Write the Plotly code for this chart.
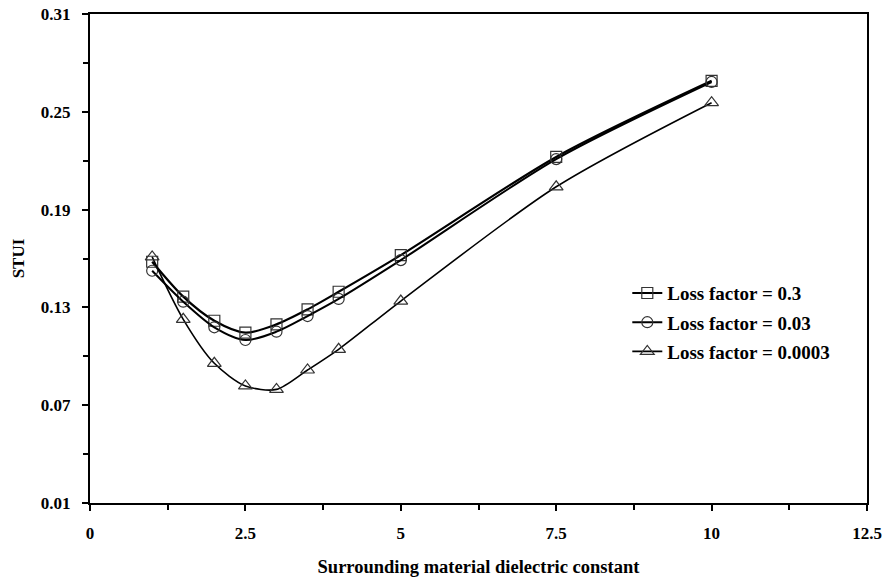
import plotly.graph_objects as go

x_vals = [1, 1.5, 2, 2.5, 3, 3.5, 4, 5, 7.5, 10]
lf_03 = [0.158, 0.1366, 0.1218, 0.1145, 0.1196, 0.1288, 0.1396, 0.1621, 0.2223, 0.269]
lf_003 = [0.1525, 0.1335, 0.1178, 0.110, 0.1151, 0.1247, 0.1352, 0.159, 0.221, 0.2683]
lf_00003 = [0.161, 0.1227, 0.0957, 0.0818, 0.0797, 0.0916, 0.1043, 0.1339, 0.204, 0.2556]
names = ["Loss factor = 0.3", "Loss factor = 0.03", "Loss factor = 0.0003"]
x_ticks = [0, 2.5, 5, 7.5, 10, 12.5]
y_ticks = [0.01, 0.07, 0.13, 0.19, 0.25, 0.31]

FONT = "Liberation Serif"

fig = go.Figure()
series = [
    (lf_03, "square-open", 11, 2.2),
    (lf_003, "circle-open", 11, 2.0),
    (lf_00003, "triangle-up-open", 12, 1.6),
]
for i, (ys, sym, sz, lw) in enumerate(series):
    fig.add_trace(go.Scatter(
        x=x_vals, y=ys, name=names[i], mode="lines+markers",
        line=dict(color="black", width=lw, shape="spline", smoothing=0.8),
        marker=dict(symbol=sym, size=sz, color="#333333", line=dict(width=1.2, color="#333333")),
        legendgroup=f"g{i}",
    ))

axis_common = dict(
    showgrid=False, zeroline=False, showline=True, linecolor="black", linewidth=2,
    mirror=True, ticks="outside", ticklen=6, tickwidth=2, tickcolor="black",
    tickfont=dict(family=FONT, size=17, color="black", weight="bold"),
    automargin=False, ticklabeloverflow="allow",
)

fig.update_xaxes(
    range=[0, 12.5], tickvals=x_ticks, ticktext=[str(v) for v in x_ticks],
    minor=dict(dtick=1.25, tick0=0, ticks="outside", ticklen=5, tickwidth=2, tickcolor="black"),
    title=dict(text="Surrounding material dielectric constant",
               font=dict(family=FONT, size=18.5, color="black", weight="bold"), standoff=24),
    ticklabelstandoff=8,
    **axis_common,
)
fig.update_yaxes(
    range=[0.01, 0.31], tickvals=y_ticks, ticktext=[f"{v:.2f}" for v in y_ticks],
    minor=dict(dtick=0.03, tick0=0.01, ticks="outside", ticklen=5, tickwidth=2, tickcolor="black"),
    title=dict(text="STUI", font=dict(family=FONT, size=17, color="black", weight="bold"), standoff=12),
    ticklabelstandoff=8,
    **axis_common,
)

fig.update_layout(
    width=885, height=577,
    margin=dict(l=90, r=18, t=14, b=74, autoexpand=False),
    plot_bgcolor="white", paper_bgcolor="white",
    showlegend=True,
    legend=dict(x=0.6915, y=0.468, xanchor="left", yanchor="top",
                font=dict(family=FONT, size=19, color="black", weight="bold"),
                bgcolor="rgba(0,0,0,0)", tracegroupgap=1.5),
)

fig.write_html(
    "out.html",
    config={"displayModeBar": False},
    post_script="document.body.style.margin='0';document.body.style.overflow='hidden';",
)
